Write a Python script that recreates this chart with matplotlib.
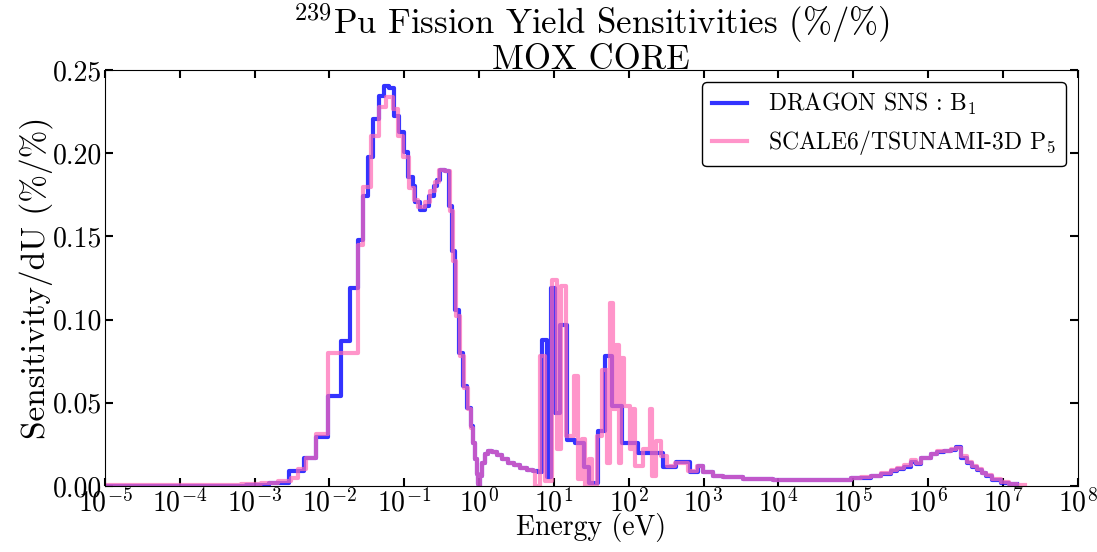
import numpy as np
import matplotlib
matplotlib.use("Agg")
import matplotlib.pyplot as plt
from matplotlib.ticker import FuncFormatter, FormatStrFormatter, NullLocator

plt.rcParams['font.family'] = 'serif'
plt.rcParams['font.serif'] = ['cmr10']
plt.rcParams['mathtext.fontset'] = 'cm'
plt.rcParams['axes.formatter.use_mathtext'] = True

# DRAGON SNS : B1  -- group lower edges (log10 eV) and sensitivity per group
dragon_logE = [-5.0, -3.12, -2.81, -2.542, -2.341, -2.180, -2.019, -1.844, -1.723, -1.616,
               -1.549, -1.481, -1.414, -1.334, -1.267, -1.199, -1.132, -1.065, -0.998, -0.944,
               -0.877, -0.850, -0.796, -0.729, -0.675, -0.608, -0.568, -0.528, -0.461, -0.407,
               -0.367, -0.326, -0.273, -0.219, -0.165, -0.112, -0.085, -0.058, -0.031, -0.011,
               0.0, 0.0094, 0.036, 0.077, 0.117, 0.17, 0.238, 0.305, 0.386, 0.466,
               0.547, 0.641, 0.721, 0.788, 0.842, 0.909, 0.963, 1.017, 1.084, 1.178,
               1.285, 1.406, 1.473, 1.594, 1.688, 1.782, 1.916, 2.118, 2.454, 2.628,
               2.816, 2.924, 2.991, 3.125, 3.259, 3.528, 3.931, 4.334, 4.737, 4.965,
               5.099, 5.234, 5.368, 5.502, 5.583, 5.677, 5.771, 5.838, 5.906, 6.040,
               6.120, 6.214, 6.308, 6.375, 6.442, 6.523, 6.590, 6.657, 6.724, 6.778,
               6.859, 6.979, 7.087, 7.194]
dragon_sens = [0.0002, 0.0008, 0.002, 0.009, 0.017, 0.0297, 0.054, 0.087, 0.119, 0.148,
               0.174, 0.198, 0.2205, 0.2345, 0.2405, 0.239, 0.2225, 0.2126, 0.2005, 0.1855,
               0.180, 0.1705, 0.166, 0.168, 0.174, 0.180, 0.184, 0.190, 0.189, 0.168,
               0.141, 0.106, 0.080, 0.060, 0.047, 0.036, 0.026, 0.016, 0.007, 0.001,
               0.0, 0.006, 0.014, 0.019, 0.021, 0.0205, 0.0185, 0.0165, 0.014, 0.0125,
               0.011, 0.0098, 0.009, 0.0085, 0.088, 0.0056, 0.119, 0.044, 0.097, 0.0277,
               0.026, 0.0116, 0.002, 0.033, 0.078, 0.048, 0.0257, 0.020, 0.0116, 0.0146,
               0.0086, 0.012, 0.0086, 0.006, 0.0052, 0.004, 0.0036, 0.0033, 0.0036, 0.0045,
               0.005, 0.006, 0.0075, 0.0092, 0.0105, 0.0116, 0.0146, 0.0135, 0.0167, 0.019,
               0.0207, 0.021, 0.0217, 0.0233, 0.0167, 0.0137, 0.0115, 0.0097, 0.0078, 0.006,
               0.0036, 0.002, 0.001]

# SCALE6/TSUNAMI-3D P5
scale_logE = [-5.0, -3.187, -2.918, -2.690, -2.515, -2.421, -2.314, -2.180, -2.019, -1.616,
              -1.549, -1.441, -1.334, -1.240, -1.146, -1.078, -1.011, -0.931, -0.864, -0.810,
              -0.729, -0.662, -0.595, -0.541, -0.461, -0.393, -0.353, -0.313, -0.259, -0.205,
              -0.152, -0.112, -0.085, -0.058, -0.031, -0.011,
              0.0, 0.0094, 0.036, 0.077, 0.117, 0.17, 0.238, 0.305, 0.386, 0.466,
              0.547, 0.641, 0.721, 0.748, 0.815, 0.882, 0.976, 1.044, 1.097, 1.164,
              1.272, 1.326, 1.379, 1.420, 1.473, 1.514, 1.581, 1.648, 1.715, 1.755,
              1.796, 1.836, 1.876, 1.903, 1.943, 2.024, 2.051, 2.091, 2.185, 2.279,
              2.306, 2.360, 2.427, 2.507, 2.615, 2.789, 2.910, 2.991, 3.125, 3.259,
              3.528, 3.931, 4.334, 4.737, 4.965, 5.099, 5.234, 5.368, 5.502, 5.583,
              5.677, 5.771, 5.838, 5.906, 6.040, 6.120, 6.214, 6.308, 6.375, 6.442,
              6.523, 6.590, 6.657, 6.724, 6.778, 6.859, 6.979, 7.087, 7.194, 7.30]
scale_sens = [0.0003, 0.001, 0.002, 0.003, 0.005, 0.010, 0.017, 0.031, 0.080, 0.145,
              0.1795, 0.2105, 0.2275, 0.2335, 0.2265, 0.2105, 0.198, 0.179, 0.172, 0.1675,
              0.1705, 0.177, 0.1825, 0.190, 0.189, 0.165, 0.135, 0.102, 0.078, 0.059,
              0.046, 0.035, 0.026, 0.016, 0.007, 0.001,
              0.0, 0.006, 0.014, 0.019, 0.021, 0.0205, 0.0185, 0.0165, 0.014, 0.0125,
              0.011, 0.0098, 0.009, 0.0, 0.078, 0.003, 0.124, 0.022, 0.120, 0.030,
              0.066, 0.004, 0.028, 0.0, 0.016, 0.0, 0.030, 0.070, 0.014, 0.110,
              0.046, 0.085, 0.014, 0.077, 0.048, 0.022, 0.046, 0.012, 0.022, 0.046,
              0.006, 0.027, 0.018, 0.012, 0.014, 0.009, 0.012, 0.0086, 0.006, 0.0052,
              0.0042, 0.0037, 0.0034, 0.0038, 0.0046, 0.0052, 0.0062, 0.0078, 0.0095, 0.011,
              0.0125, 0.0155, 0.014, 0.017, 0.0195, 0.021, 0.0212, 0.022, 0.0228, 0.018,
              0.0145, 0.012, 0.010, 0.008, 0.0065, 0.004, 0.0022, 0.0012, 0.0005]

fig = plt.figure(figsize=(10.97, 5.52), dpi=100)
ax = fig.add_axes([0.0957, 0.1196, 0.8866, 0.7536])


def draw(logE, sens, **kw):
    e = 10.0 ** np.array(logE)
    s = np.append(sens, sens[-1])
    ax.step(e, s, where='post', **kw)


draw(dragon_logE, dragon_sens, color='#0000ff', alpha=0.8, lw=3, label=r'DRAGON SNS : B$_1$')
draw(scale_logE, scale_sens, color='#ff69b4', alpha=0.7, lw=3, label=r'SCALE6/TSUNAMI-3D P$_5$')

ax.set_xscale('log')
ax.set_xlim(1e-5, 1e8)
ax.set_ylim(0, 0.25)
ax.set_xticks(10.0 ** np.arange(-5, 9))
ax.xaxis.set_minor_locator(NullLocator())
ax.xaxis.set_major_formatter(FuncFormatter(lambda v, p: r'$10^{%d}$' % round(np.log10(v))))
ax.set_yticks(np.arange(0, 0.26, 0.05))
ax.yaxis.set_major_formatter(FormatStrFormatter('%.2f'))
ax.tick_params(direction='in', top=True, right=True, length=6, width=1.5, labelsize=20, pad=2)

ax.set_xlabel('Energy (eV)', fontsize=20, labelpad=-3)
ax.set_ylabel('Sensitivity/dU (%/%)', fontsize=24, labelpad=0)
ax.set_title('$^{239}$Pu Fission Yield Sensitivities (%/%)\nMOX CORE', fontsize=25, pad=1,
             linespacing=0.95)

leg = ax.legend(loc='upper right', fontsize=17, fancybox=True, framealpha=1,
                edgecolor='black', handlelength=1.5, handletextpad=0.9,
                borderpad=0.4, labelspacing=0.45, borderaxespad=0.5)

fig.savefig('out.png', dpi=100)
